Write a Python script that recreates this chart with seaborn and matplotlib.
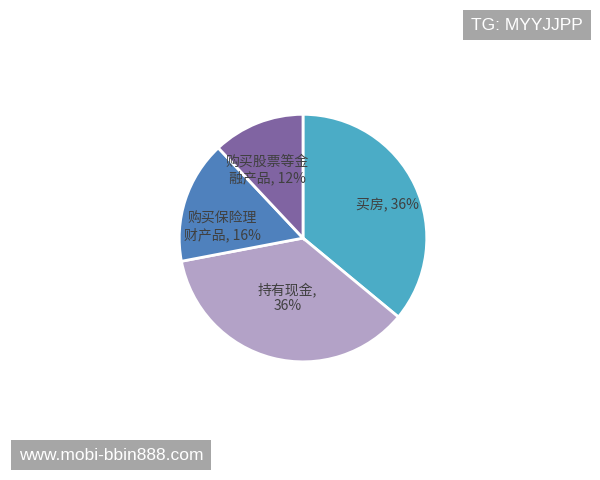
import matplotlib
matplotlib.use('Agg')
import matplotlib.pyplot as plt
import seaborn as sns
import numpy as np

# Slice data, clockwise from 12 o'clock
labels = ['买房', '持有现金', '购买保险理财产品', '购买股票等金融产品']
shares = [36, 36, 16, 12]
label_text = ['买房, 36%', '持有现金,\n36%', '购买保险理\n财产品, 16%', '购买股票等金\n融产品, 12%']
colors = ['#4BACC6', '#B3A2C7', '#4F81BD', '#8064A2']

sns.set_theme(style='white')
plt.rcParams['font.family'] = ['Noto Sans CJK SC', 'DejaVu Sans']

fig = plt.figure(figsize=(6, 4.8), dpi=100)
fig.patch.set_facecolor('white')
ax = fig.add_axes([0.505 - 125 / 600, 0.504 - 125 / 480, 250 / 600, 250 / 480])

wedges, _ = ax.pie(shares, colors=colors, startangle=90, counterclock=False,
                   wedgeprops=dict(edgecolor='white', linewidth=2))
ax.set_xlim(-1.01, 1.01)
ax.set_ylim(-1.01, 1.01)
ax.set_aspect('equal')

# label placement inside each wedge
radii = [0.73, 0.5, 0.66, 0.62]
shifts = [-4, 0, 10, 6]
for w, txt, r, s in zip(wedges, label_text, radii, shifts):
    ang = np.deg2rad((w.theta1 + w.theta2) / 2 + s)
    ax.text(r * np.cos(ang), r * np.sin(ang), txt, ha='center', va='center',
            fontsize=10, color='#404040', linespacing=1.15)

# watermark boxes
fig.text(527 / 600, 1 - 25 / 480, 'TG: MYYJJPP', ha='center', va='center',
         color='white', fontsize=12.5, family='Liberation Sans',
         bbox=dict(boxstyle='square,pad=0.45', facecolor='#A6A6A6', edgecolor='none'))
fig.text(111 / 600, 1 - 455 / 480, 'www.mobi-bbin888.com', ha='center', va='center',
         color='white', fontsize=12.5, family='Liberation Sans',
         bbox=dict(boxstyle='square,pad=0.45', facecolor='#A6A6A6', edgecolor='none'))

fig.savefig('out.png', dpi=100, facecolor='white')
